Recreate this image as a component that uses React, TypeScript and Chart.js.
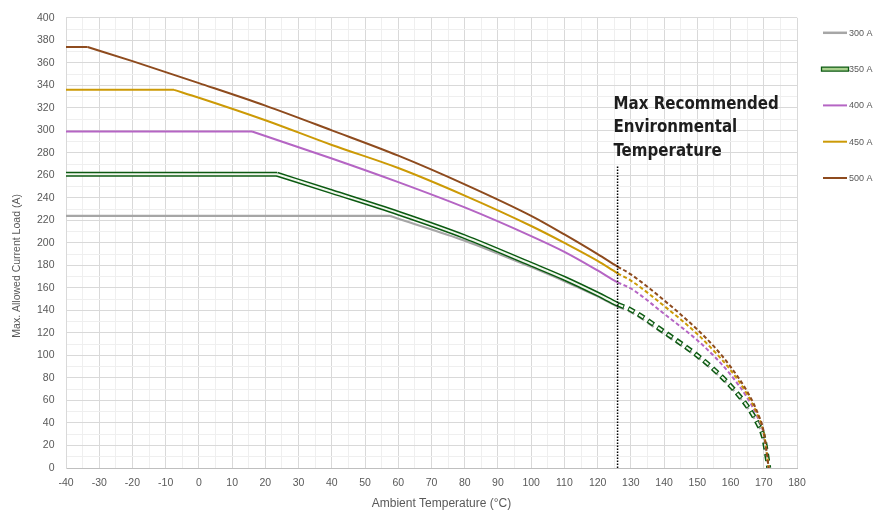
import React, { useEffect, useRef } from 'react';
import { Chart, registerables } from 'chart.js';

Chart.register(...registerables);

// ---------- Data ----------
// 300 A
const T_300 = [-40, 57.5, 60, 80, 100, 110, 120, 126, 130, 140, 150, 155, 160, 165, 168, 170, 171.5];
const I_300 = [224, 224, 221.5, 202, 178.5, 166, 152.5, 143.5, 138.5, 119, 98.5, 86, 72, 54, 39.5, 26, 0];
// 350 A
const T_350 = [-40, 23.5, 40, 60, 80, 100, 110, 120, 126, 130, 140, 150, 155, 160, 165, 168, 170, 171.5];
const I_350 = [261, 261, 245.5, 226.5, 205.5, 181, 168.5, 154.5, 145.5, 140.5, 121, 100, 87.5, 73, 55, 40.5, 26.5, 0];
// 400 A
const T_400 = [-40, 16, 20, 40, 60, 80, 100, 110, 120, 126, 130, 140, 150, 155, 160, 165, 168, 170, 171.5];
const I_400 = [299, 299, 295, 275, 254, 231.5, 206, 192, 175.5, 165, 159.5, 137, 113.5, 99.5, 83, 62.5, 46, 30, 0];
// 450 A
const T_450 = [-40, -7.5, 0, 20, 40, 60, 80, 100, 110, 120, 126, 130, 140, 150, 155, 160, 165, 168, 170, 171.5];
const I_450 = [336, 336, 329, 309, 287, 266.5, 242, 215, 200, 184, 173, 166.5, 144, 119, 104, 87, 65.5, 48, 31, 0];
// 500 A
const T_500 = [-40, -33.5, -20, 0, 20, 40, 60, 80, 100, 110, 120, 126, 130, 140, 150, 155, 160, 165, 168, 170, 171.5];
const I_500 = [374, 374, 361.5, 342, 322, 300, 277.5, 252, 224, 207.5, 190, 179, 172, 149, 123, 108, 90, 68, 50, 32, 0];

const SERIES_LABELS = ['300 A', '350 A', '400 A', '450 A', '500 A'];

const X_MIN = -40;
const X_MAX = 180;
const X_STEP = 5;
const X_LABEL_STEP = 10;
const Y_MIN = 0;
const Y_MAX = 400;
const Y_STEP = 10;
const Y_LABEL_STEP = 20;

const X_TITLE = 'Ambient Temperature (°C)';
const Y_TITLE = 'Max. Allowed Current Load (A)';

const MAX_RECOMMENDED_TEMP = 126;
const MARKER_X = [126, 126];
const MARKER_Y = [0, 268];
const ANNOTATION_LINES = ['Max Recommended', 'Environmental', 'Temperature'];

// ---------- Styles ----------
const FONT = "'Liberation Sans', Arial, sans-serif";
const GRAY = '#a6a6a6';
const GREEN_DARK = '#0c5a12';
const GREEN_INNER = '#f1f8ed';
const GREEN_LEGEND_FILL = '#a9d08e';
const PURPLE = '#b565c4';
const GOLD = '#cc9a06';
const BROWN = '#8e4b1e';
const TEXT = '#595959';

const pts = (T: number[], I: number[], from: number, to?: number) =>
  T.slice(from, to).map((t, i) => ({ x: t, y: I[from + i] }));

const dashAfter = (dash: number[], offset = 0) => ({
  borderDash: (ctx: any) => (ctx.p0.parsed.x >= MAX_RECOMMENDED_TEMP - 0.01 ? dash : undefined),
  borderDashOffset: (ctx: any) => (ctx.p0.parsed.x >= MAX_RECOMMENDED_TEMP - 0.01 ? offset : 0),
});

function seriesDatasets(
  T: number[], I: number[], color: string, width: number, dash: number[], order: number, offset = 0
) {
  const common = {
    borderColor: color,
    backgroundColor: color,
    borderWidth: width,
    pointRadius: 0,
    fill: false,
    order,
    borderCapStyle: 'butt' as const,
    borderJoinStyle: 'miter' as const,
  };
  return [
    { ...common, data: pts(T, I, 0, 2), tension: 0 },
    { ...common, data: pts(T, I, 1), cubicInterpolationMode: 'monotone' as const, segment: dashAfter(dash, offset) },
  ];
}

const legendItems = [
  { label: SERIES_LABELS[0], color: GRAY, width: 2.5 },
  { label: SERIES_LABELS[1], color: GREEN_DARK, width: 0, compound: true },
  { label: SERIES_LABELS[2], color: PURPLE, width: 2 },
  { label: SERIES_LABELS[3], color: GOLD, width: 2 },
  { label: SERIES_LABELS[4], color: BROWN, width: 2 },
];

const sideLegend = {
  id: 'sideLegend',
  afterDraw(chart: any) {
    const { ctx, chartArea } = chart;
    const x0 = chartArea.right + 26;
    const x1 = chartArea.right + 50;
    ctx.save();
    legendItems.forEach((it: any, i: number) => {
      const y = chartArea.top + 15 + i * 36.3;
      if (it.compound) {
        ctx.fillStyle = GREEN_LEGEND_FILL;
        ctx.strokeStyle = GREEN_DARK;
        ctx.lineWidth = 1.3;
        ctx.beginPath();
        ctx.rect(x0 - 1.5, y - 2, x1 - x0 + 3, 4);
        ctx.fill();
        ctx.stroke();
      } else {
        ctx.strokeStyle = it.color;
        ctx.lineWidth = it.width;
        ctx.beginPath();
        ctx.moveTo(x0, y);
        ctx.lineTo(x1, y);
        ctx.stroke();
      }
      ctx.fillStyle = TEXT;
      ctx.font = `9px ${FONT}`;
      ctx.textAlign = 'left';
      ctx.textBaseline = 'middle';
      ctx.fillText(it.label, x1 + 2, y + 0.5);
    });
    ctx.restore();
  },
};

const axisTitles = {
  id: 'axisTitles',
  afterDraw(chart: any) {
    const { ctx, chartArea } = chart;
    ctx.save();
    ctx.fillStyle = TEXT;
    ctx.textAlign = 'center';
    ctx.textBaseline = 'middle';
    ctx.font = `12px ${FONT}`;
    ctx.fillText(X_TITLE, (chartArea.left + chartArea.right) / 2 + 10, chart.height - 6);
    ctx.translate(17, (chartArea.top + chartArea.bottom) / 2 + 23);
    ctx.rotate(-Math.PI / 2);
    ctx.font = `10.5px ${FONT}`;
    ctx.fillText(Y_TITLE, 0, 0);
    ctx.restore();
  },
};

const annotationText = {
  id: 'annotationText',
  afterDraw(chart: any) {
    const { ctx, chartArea, scales } = chart;
    const x = scales.x.getPixelForValue(MAX_RECOMMENDED_TEMP) - 4;
    ctx.save();
    ctx.fillStyle = '#1e1e1e';
    ctx.font = "bold 18px 'DejaVu Sans Condensed', 'Liberation Sans Narrow', sans-serif";
    ctx.textAlign = 'left';
    ctx.textBaseline = 'alphabetic';
    ANNOTATION_LINES.forEach((line, i) => {
      ctx.save();
      ctx.translate(x, chartArea.top + 91 + i * 23.5);
      ctx.scale(0.93, 1);
      ctx.fillText(line, 0, 0);
      ctx.restore();
    });
    ctx.restore();
  },
};

export default function App() {
  const ref = useRef<HTMLCanvasElement | null>(null);

  useEffect(() => {
    if (!ref.current) return;
    const datasets: any[] = [
      ...seriesDatasets(T_300, I_300, GRAY, 2.2, [7, 4.5], 7),
      ...seriesDatasets(T_350, I_350, GREEN_DARK, 5, [7, 4.5], 6),
      ...seriesDatasets(T_350, I_350, GREEN_INNER, 2, [5, 6.5], 5, -1),
      ...seriesDatasets(T_400, I_400, PURPLE, 2, [4, 2.5], 4),
      ...seriesDatasets(T_450, I_450, GOLD, 2, [4, 2.5], 3),
      ...seriesDatasets(T_500, I_500, BROWN, 2, [4, 2.5], 2),
      {
        data: MARKER_X.map((x, i) => ({ x, y: MARKER_Y[i] })),
        borderColor: '#000000',
        borderWidth: 1.5,
        borderDash: [1.5, 1.5],
        pointRadius: 0,
        tension: 0,
        order: 0,
      },
    ];

    const chart = new Chart(ref.current, {
      type: 'line',
      data: { datasets },
      plugins: [sideLegend, axisTitles, annotationText],
      options: {
        animation: false,
        responsive: false,
        events: [],
        layout: { padding: { top: 14, right: 77, left: 0, bottom: 0 } },
        plugins: { legend: { display: false }, tooltip: { enabled: false } },
        scales: {
          x: {
            type: 'linear',
            min: X_MIN,
            max: X_MAX,
            afterFit: (s: any) => { s.height = 42; },
            ticks: {
              stepSize: X_STEP,
              autoSkip: false,
              maxRotation: 0,
              padding: 9,
              color: TEXT,
              font: { size: 10.5, family: FONT },
              callback: (v: any) => (Number(v) % X_LABEL_STEP === 0 ? String(v) : ''),
            },
            grid: {
              drawTicks: false,
              color: (c: any) => (c.tick && c.tick.value % X_LABEL_STEP === 0 ? '#d9d9d9' : '#efefef'),
              lineWidth: 1,
            },
            border: { color: '#bfbfbf', width: 1 },
            title: { display: false },
          },
          y: {
            type: 'linear',
            min: Y_MIN,
            max: Y_MAX,
            afterFit: (s: any) => { s.width = 66; },
            ticks: {
              stepSize: Y_STEP,
              autoSkip: false,
              padding: 11.5,
              color: TEXT,
              font: { size: 10.5, family: FONT },
              callback: (v: any) => (Number(v) % Y_LABEL_STEP === 0 ? String(v) : ''),
            },
            grid: {
              drawTicks: false,
              color: (c: any) => (c.tick && c.tick.value % Y_LABEL_STEP === 0 ? '#d9d9d9' : '#efefef'),
              lineWidth: 1,
            },
            border: { color: '#d9d9d9', width: 1 },
            title: { display: false },
          },
        },
      },
    } as any);
    return () => chart.destroy();
  }, []);

  return (
    <div style={{ position: 'fixed', left: 0, top: 0, width: 874, height: 510, background: '#ffffff' }}>
      <canvas ref={ref} width={874} height={510} style={{ width: 874, height: 510, display: 'block' }} />
    </div>
  );
}
